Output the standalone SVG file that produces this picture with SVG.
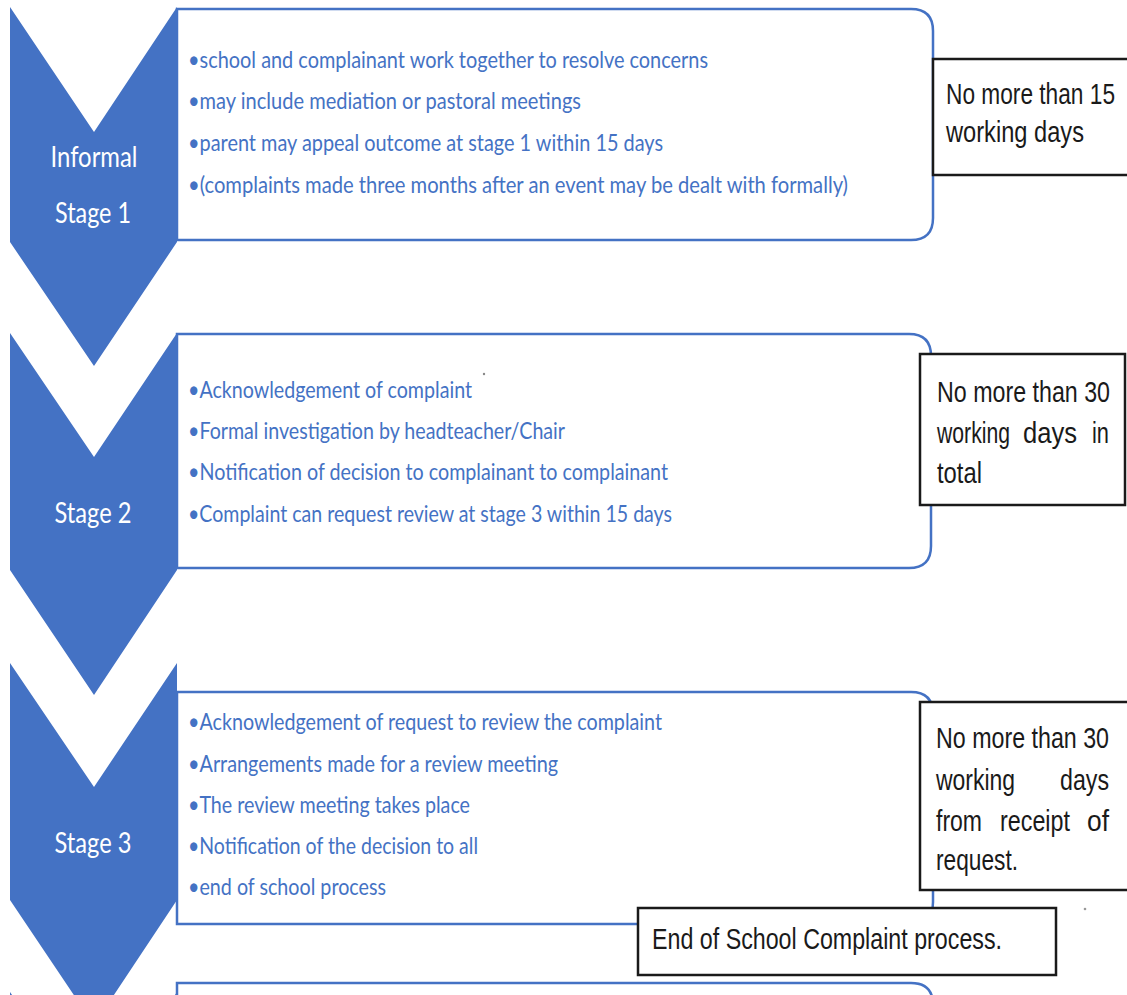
<svg xmlns="http://www.w3.org/2000/svg" width="1127" height="995" viewBox="0 0 1127 995">
<style>
.chev{fill:#4472C4;stroke:none}
.box{fill:#ffffff;stroke:#4472C4;stroke-width:2.5}
.item{font-family:"Lato","Open Sans",sans-serif;font-size:23px;fill:#4472C4}
.lbl{font-family:"Lato","Open Sans",sans-serif;font-size:29px;fill:#ffffff;text-anchor:middle}
.note{fill:#ffffff;stroke:#1a1a1a;stroke-width:2.5}
.nt{font-family:"Liberation Sans","Arial",sans-serif;font-size:30px;fill:#1a1a1a}
</style>
<rect width="1127" height="995" fill="#ffffff"/>

<g id="box1">
<path class="box" d="M177,9 H911 Q933,9 933,31 V218 Q933,240 911,240 H177 Z"/>
<text class="item" x="188" y="68" textLength="520" lengthAdjust="spacingAndGlyphs">•school and complainant work together to resolve concerns</text>
<text class="item" x="188" y="109" textLength="393" lengthAdjust="spacingAndGlyphs">•may include mediation or pastoral meetings</text>
<text class="item" x="188" y="151" textLength="475" lengthAdjust="spacingAndGlyphs">•parent may appeal outcome at stage 1 within 15 days</text>
<text class="item" x="188" y="193" textLength="660" lengthAdjust="spacingAndGlyphs">•(complaints made three months after an event may be dealt with formally)</text>
</g>

<g id="box2">
<path class="box" d="M177,334 H909 Q931,334 931,356 V546 Q931,568 909,568 H177 Z"/>
<text class="item" x="188" y="398" textLength="284" lengthAdjust="spacingAndGlyphs">•Acknowledgement of complaint</text>
<circle cx="484" cy="374" r="1.2" fill="#888888"/>
<text class="item" x="188" y="439" textLength="377" lengthAdjust="spacingAndGlyphs">•Formal investigation by headteacher/Chair</text>
<text class="item" x="188" y="480" textLength="480" lengthAdjust="spacingAndGlyphs">•Notification of decision to complainant to complainant</text>
<text class="item" x="188" y="522" textLength="484" lengthAdjust="spacingAndGlyphs">•Complaint can request review at stage 3 within 15 days</text>
</g>

<g id="box3">
<path class="box" d="M177,692 H911 Q933,692 933,714 V902 Q933,924 911,924 H177 Z"/>
<text class="item" x="188" y="730" textLength="474" lengthAdjust="spacingAndGlyphs">•Acknowledgement of request to review the complaint</text>
<text class="item" x="188" y="772" textLength="370" lengthAdjust="spacingAndGlyphs">•Arrangements made for a review meeting</text>
<text class="item" x="188" y="813" textLength="282" lengthAdjust="spacingAndGlyphs">•The review meeting takes place</text>
<text class="item" x="188" y="854" textLength="290" lengthAdjust="spacingAndGlyphs">•Notification of the decision to all</text>
<text class="item" x="188" y="895" textLength="198" lengthAdjust="spacingAndGlyphs">•end of school process</text>
</g>

<g id="box4">
<path class="box" d="M177,983 H911 Q933,983 933,1005 V1030 H177 Z"/>
</g>

<g id="stage1">
<polygon class="chev" points="10,7 94,132 177,7 177,242 94,366 10,242"/>
<text class="lbl" x="94" y="167" textLength="87" lengthAdjust="spacingAndGlyphs">Informal</text>
<text class="lbl" x="93" y="223" textLength="76" lengthAdjust="spacingAndGlyphs">Stage 1</text>
</g>

<g id="stage2">
<polygon class="chev" points="10,333 94,457 177,333 177,570 94,695 10,570"/>
<text class="lbl" x="93" y="523" textLength="77" lengthAdjust="spacingAndGlyphs">Stage 2</text>
</g>

<g id="stage3">
<polygon class="chev" points="10,663 94,787 177,663 177,900 94,1025 10,900"/>
<text class="lbl" x="93" y="853" textLength="77" lengthAdjust="spacingAndGlyphs">Stage 3</text>
</g>

<g id="stage4">
<polygon class="chev" points="10,992 94,1116 177,992 177,1200 10,1200"/>
</g>

<g id="note1">
<rect class="note" x="933" y="59" width="200" height="116"/>
<text class="nt" x="946" y="104" textLength="169" lengthAdjust="spacingAndGlyphs">No more than 15</text>
<text class="nt" x="946" y="142" textLength="138" lengthAdjust="spacingAndGlyphs">working days</text>
</g>

<g id="note2">
<rect class="note" x="920" y="354" width="205" height="151"/>
<text class="nt" x="937" y="402" textLength="173" lengthAdjust="spacingAndGlyphs">No more than 30</text>
<text class="nt" y="443"><tspan x="937" textLength="73" lengthAdjust="spacingAndGlyphs">working</tspan><tspan x="1023" textLength="54" lengthAdjust="spacingAndGlyphs">days</tspan><tspan x="1092" textLength="17" lengthAdjust="spacingAndGlyphs">in</tspan></text>
<text class="nt" x="937" y="483" textLength="45" lengthAdjust="spacingAndGlyphs">total</text>
</g>

<g id="note3">
<rect class="note" x="920" y="702" width="212" height="188"/>
<text class="nt" x="936" y="748" textLength="173" lengthAdjust="spacingAndGlyphs">No more than 30</text>
<text class="nt" y="790"><tspan x="936" textLength="79" lengthAdjust="spacingAndGlyphs">working</tspan><tspan x="1060" textLength="49" lengthAdjust="spacingAndGlyphs">days</tspan></text>
<text class="nt" y="831"><tspan x="936" textLength="46" lengthAdjust="spacingAndGlyphs">from</tspan><tspan x="1000" textLength="70" lengthAdjust="spacingAndGlyphs">receipt</tspan><tspan x="1087" textLength="22" lengthAdjust="spacingAndGlyphs">of</tspan></text>
<text class="nt" x="936" y="870" textLength="82" lengthAdjust="spacingAndGlyphs">request.</text>
</g>

<g id="note4">
<rect class="note" x="638" y="908" width="418" height="67"/>
<text class="nt" x="652" y="949" textLength="350" lengthAdjust="spacingAndGlyphs">End of School Complaint process.</text>
</g>

<g id="connectors"></g>

<circle cx="1085" cy="909" r="1.3" fill="#999999"/>
</svg>
